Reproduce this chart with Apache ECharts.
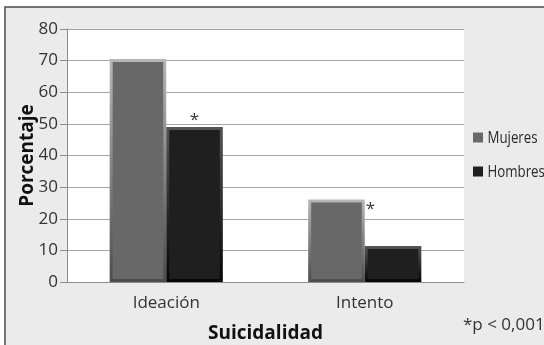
<!DOCTYPE html>
<html>
<head>
<meta charset="utf-8">
<script src="https://cdn.jsdelivr.net/npm/echarts@6/dist/echarts.min.js"></script>
<style>
  html, body { margin: 0; padding: 0; background: #ffffff; }
  #chart { width: 544px; height: 345px; }
</style>
</head>
<body>
<div id="chart"></div>
<script>
// Suicidal behaviour by sex (percent)
const categories = ['Ideación', 'Intento'];
const seriesNames = ['Mujeres', 'Hombres'];
const mujeres = [70.5, 26.1];
const hombres = [49.0, 11.4];
const yTicks = [0, 10, 20, 30, 40, 50, 60, 70, 80];
// significance marks: [series index, category index]
const significance = [[1, 0], [0, 1]];
const footnote = '*p < 0,001';

const FONT = '"Open Sans", "DejaVu Sans", sans-serif';

function bevel(top, bottom) {
  return new echarts.graphic.LinearGradient(0, 0, 0, 1, [
    { offset: 0, color: top },
    { offset: 1, color: bottom }
  ]);
}

const styles = [
  { color: '#686868', border: bevel('#b8b8b8', '#4c4c4c') },
  { color: '#1f1f1f', border: bevel('#555555', '#050505') }
];

function markedData(values, sIdx) {
  return values.map((v, cIdx) => {
    const marked = significance.some(s => s[0] === sIdx && s[1] === cIdx);
    if (!marked) return v;
    const label = sIdx === 1
      ? { show: true, formatter: '*', position: 'top', distance: -1,
          fontSize: 17, color: '#333', fontFamily: FONT, lineHeight: 16 }
      : { show: true, formatter: '*', position: ['100%', 0], offset: [1, 2],
          align: 'left', verticalAlign: 'top',
          fontSize: 17, color: '#333', fontFamily: FONT, lineHeight: 16 };
    return { value: v, label: label };
  });
}

// Legend drawn as graphic items so the labels can be set in a condensed width
function legendItems() {
  const items = [];
  seriesNames.forEach((name, i) => {
    const cy = 137.5 + i * 34;
    items.push({
      type: 'rect', silent: true,
      shape: { x: 473, y: cy - 5, width: 10, height: 10 },
      style: { fill: styles[i].color }
    });
    items.push({
      type: 'text', silent: true,
      x: 487.5, y: cy + 0.5, scaleX: 0.78,
      style: { text: name, fontSize: 17, fill: '#2a2a2a', fontFamily: FONT,
               verticalAlign: 'middle', align: 'left' }
    });
  });
  return items;
}

const chart = echarts.init(document.getElementById('chart'), null, { renderer: 'canvas' });

chart.setOption({
  animation: false,
  backgroundColor: '#ffffff',
  textStyle: { fontFamily: FONT },
  graphic: [
    {
      type: 'rect', z: -10, silent: true,
      shape: { x: 5, y: 7, width: 560, height: 360 },
      style: { fill: '#ebebeb', stroke: '#4a4a4a', lineWidth: 1.5 }
    },
    {
      type: 'text', left: 463, top: 317,
      style: { text: footnote, fontSize: 17, fill: '#333', fontFamily: FONT }
    }
  ].concat(legendItems()),
  grid: {
    left: 67, right: 80, top: 29, bottom: 63,
    outerBoundsMode: 'none',
    containLabel: false,
    show: true, backgroundColor: '#ffffff', borderWidth: 0
  },
  xAxis: {
    type: 'category',
    data: categories,
    name: 'Suicidalidad',
    nameLocation: 'middle',
    nameGap: 42,
    nameTextStyle: { fontSize: 19, fontWeight: 'bold', color: '#111', fontFamily: FONT },
    axisLine: { lineStyle: { color: '#8c8c8c', width: 1 } },
    axisTick: { show: false },
    axisLabel: { fontSize: 17, color: '#333', margin: 13, fontFamily: FONT }
  },
  yAxis: {
    type: 'value',
    min: yTicks[0], max: yTicks[yTicks.length - 1], interval: 10,
    name: 'Porcentaje',
    nameLocation: 'middle',
    nameGap: 30,
    nameMoveOverlap: false,
    nameRotate: 90,
    nameTextStyle: { fontSize: 19, fontWeight: 'bold', color: '#111', fontFamily: FONT },
    axisLine: { show: true, lineStyle: { color: '#8c8c8c', width: 1 } },
    axisTick: { show: true, length: 7, lineStyle: { color: '#8c8c8c' } },
    axisLabel: { fontSize: 17, color: '#333', margin: 9, fontFamily: FONT },
    splitLine: { lineStyle: { color: '#a6a6a6', width: 1 } }
  },
  series: [
    {
      name: seriesNames[0], type: 'bar',
      data: markedData(mujeres, 0),
      barGap: '0%', barCategoryGap: '43%',
      itemStyle: { color: styles[0].color, borderColor: styles[0].border, borderWidth: 3 }
    },
    {
      name: seriesNames[1], type: 'bar',
      data: markedData(hombres, 1),
      barGap: '0%', barCategoryGap: '43%',
      itemStyle: { color: styles[1].color, borderColor: styles[1].border, borderWidth: 3 }
    }
  ]
});
</script>
</body>
</html>
